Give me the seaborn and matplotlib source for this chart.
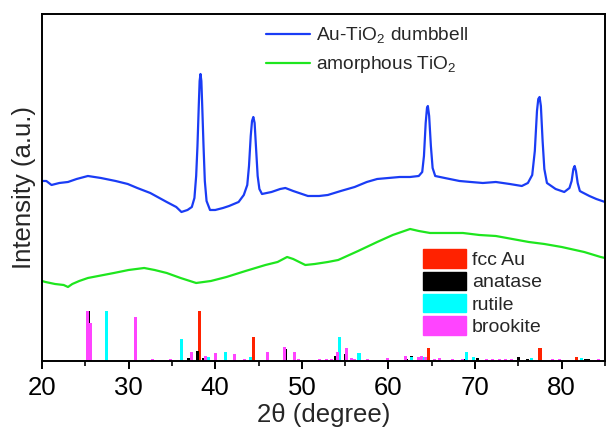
import numpy as np
import pandas as pd
import seaborn as sns
import matplotlib.pyplot as plt
from matplotlib.patches import Patch
from matplotlib.lines import Line2D

# XRD pattern of the Au-TiO2 dumbbells (2theta, intensity in a.u.)
dumbbell_2theta = [20.0, 20.5, 21.1, 22.0, 23.0, 24.0, 25.3, 26.8, 28.5, 29.9, 31.0, 32.5,
                   34.4, 35.5, 36.1, 36.8, 37.3, 37.6, 37.8, 37.95, 38.1, 38.2, 38.3, 38.4,
                   38.5, 38.65, 38.8, 39.0, 39.4, 40.0, 40.9, 41.6, 42.7, 43.3, 43.7, 43.9,
                   44.1, 44.25, 44.4, 44.55, 44.7, 44.9, 45.1, 45.4, 46.5, 47.5, 48.1, 49.0,
                   50.7, 52.0, 53.0, 54.5, 56.1, 57.5, 58.7, 60.0, 61.3, 62.5, 63.5, 63.9,
                   64.1, 64.3, 64.45, 64.55, 64.7, 64.9, 65.1, 65.4, 66.5, 68.2, 69.5, 70.9,
                   72.4, 74.0, 75.4, 76.1, 76.6, 76.9, 77.15, 77.3, 77.45, 77.6, 77.8, 78.0,
                   78.3, 79.3, 80.3, 80.9, 81.15, 81.35, 81.5, 81.65, 81.85, 82.1, 82.3, 83.2,
                   84.0, 85.0]
dumbbell_int = [180, 180, 176, 178, 179, 182, 185, 183, 180, 177, 173, 168,
                159, 154, 149, 151, 154, 163, 185, 215, 255, 280, 287, 280,
                255, 215, 180, 160, 151, 151, 153, 155, 159, 166, 176, 195,
                225, 240, 244, 238, 215, 185, 172, 167, 169, 172, 173, 170,
                165, 165, 166, 170, 174, 179, 182, 183, 184, 184, 185, 189,
                205, 238, 253, 255, 245, 215, 193, 185, 183, 180, 179, 178,
                179, 177, 175, 178, 186, 210, 250, 262, 264, 255, 220, 192,
                178, 172, 169, 173, 180, 192, 195, 190, 178, 170, 169, 165,
                162, 159]

# amorphous TiO2
amorphous_2theta = [20.0, 20.4, 21.5, 22.5, 23.0, 23.5, 24.3, 25.3, 26.5, 28.3, 30.0, 31.8,
                    33.0, 34.4, 36.0, 37.8, 39.5, 41.3, 43.5, 45.8, 47.2, 48.3, 49.0, 50.4,
                    51.5, 53.0, 54.2, 56.5, 58.7, 60.5, 62.5, 63.5, 64.8, 66.5, 68.6, 70.5,
                    72.4, 74.3, 76.2, 78.0, 80.0, 82.6, 84.5, 85.0]
amorphous_int = [80, 79, 77, 76, 74, 77, 80, 83, 85, 88, 91, 93,
                 91, 88, 83, 78, 80, 84, 90, 96, 99, 104, 102, 96,
                 97, 99, 101, 110, 119, 126, 132, 130, 128, 128, 128, 126,
                 125, 122, 119, 117, 114, 109, 104, 103]

# reference line patterns (position, relative height)
au_pos = [38.2, 44.4, 64.6, 77.5, 81.7]
au_h = [50, 24, 13, 13, 4]
anatase_pos = [25.4, 36.9, 37.9, 38.6, 48.1, 53.9, 55.1, 62.1, 62.7, 68.8, 70.3, 75.0, 76.0, 82.7, 83.1]
anatase_h = [50, 3, 10, 3, 12, 5, 7, 2, 5, 2, 3, 4, 2, 2, 1.5]
rutile_pos = [27.5, 36.1, 39.2, 41.2, 44.05, 54.3, 56.6, 62.7, 64.0, 69.0, 69.8, 76.5, 82.3, 84.3]
rutile_h = [50, 22, 4, 9, 4, 24, 8, 4, 4, 9, 4, 3, 3, 2]
brookite_pos = [25.2, 25.65, 30.8, 32.8, 34.8, 37.25, 38.9, 40.05, 42.25, 43.4, 46.0, 48.0,
                49.1, 49.6, 52.0, 52.8, 53.4, 54.15, 55.2, 55.7, 56.1, 57.6, 59.9, 62.0,
                63.5, 63.8, 64.3, 65.3, 65.9, 67.4, 68.5, 71.3, 72.0, 72.8, 73.5, 74.2,
                78.9, 79.7, 84.3]
brookite_h = [50, 38, 44, 2, 1.5, 9, 5, 8, 7, 1.5, 9, 14,
              9, 2, 2, 1.5, 1.5, 9, 13, 3, 2, 2, 3, 5,
              4, 5, 4, 2, 3, 2, 2, 2, 1.5, 1.5, 1.5, 1.5,
              2, 1.5, 2]

sns.set_style("white")
plt.rcParams['font.family'] = ['Liberation Sans', 'DejaVu Sans']

fig = plt.figure(figsize=(6.06, 4.33), dpi=100)
ax = fig.add_axes([0.0693, 0.1663, 0.9290, 0.8014])

df_db = pd.DataFrame({'x': dumbbell_2theta, 'y': dumbbell_int})
df_am = pd.DataFrame({'x': amorphous_2theta, 'y': amorphous_int})
sns.lineplot(data=df_db, x='x', y='y', color='#1a3cf5', lw=1.6, ax=ax, sort=False)
sns.lineplot(data=df_am, x='x', y='y', color='#1ee61e', lw=1.6, ax=ax, sort=False)

bar_w = 0.35
ax.bar(au_pos, au_h, width=bar_w, color='#ff2200', lw=0)
ax.bar(anatase_pos, anatase_h, width=bar_w, color='black', lw=0)
ax.bar(rutile_pos, rutile_h, width=bar_w, color='#00ffff', lw=0)
ax.bar(brookite_pos, brookite_h, width=bar_w, color='#ff44ff', lw=0)

ax.set_xlim(20, 85)
ax.set_ylim(0, 347)
ax.set_yticks([])
ax.set_xticks(np.arange(20, 81, 10))
ax.set_xticks(np.arange(25, 86, 10), minor=True)
ax.tick_params(axis='x', which='major', direction='out', length=6, width=1.4,
               labelsize=18.5, pad=5, bottom=True, colors='black')
ax.tick_params(axis='x', which='minor', direction='out', length=3.5, width=1.4, bottom=True)
for sp in ax.spines.values():
    sp.set_linewidth(1.4)
    sp.set_color('black')
ax.set_xlabel('2θ (degree)', fontsize=18.5, labelpad=2)
ax.set_ylabel('Intensity (a.u.)', fontsize=18.5, labelpad=4)

line_handles = [Line2D([], [], color='#1a3cf5', lw=1.6),
                Line2D([], [], color='#1ee61e', lw=1.6)]
leg1 = ax.legend(line_handles,
                 [r'Au-TiO$_\mathregular{2}$ dumbbell', r'amorphous TiO$_\mathregular{2}$'],
                 loc='upper left', bbox_to_anchor=(0.378, 1.0), frameon=False,
                 fontsize=13.8, handlelength=2.3, handletextpad=0.3, labelspacing=0.45,
                 borderaxespad=0.2)
ax.add_artist(leg1)

patch_handles = [Patch(color='#ff2200'), Patch(color='black'),
                 Patch(color='#00ffff'), Patch(color='#ff44ff')]
ax.legend(patch_handles, ['fcc Au', 'anatase', 'rutile', 'brookite'],
          loc='upper left', bbox_to_anchor=(0.677, 0.322), frameon=False,
          fontsize=14, handlelength=2.2, handleheight=1.1, handletextpad=0.3,
          labelspacing=0.12, borderaxespad=0.0, borderpad=0.0)

plt.savefig('out.png', dpi=100)
